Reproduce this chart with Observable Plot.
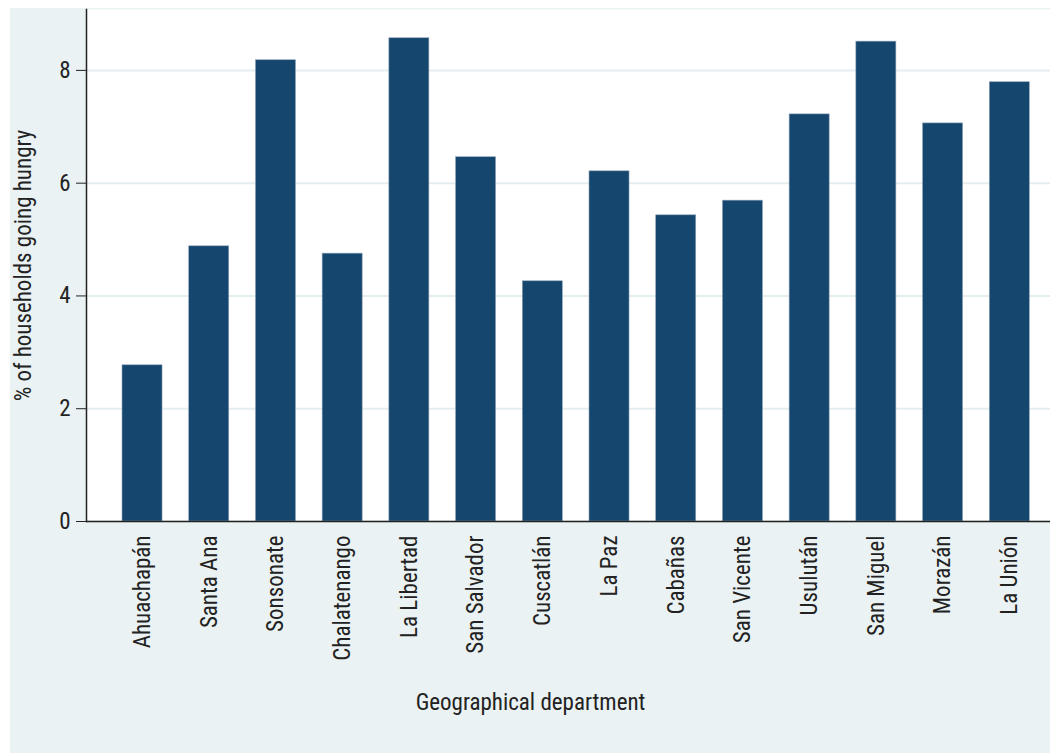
<!DOCTYPE html>
<html>
<head>
<meta charset="utf-8">
<script src="https://cdn.jsdelivr.net/npm/d3@7"></script>
<script src="https://cdn.jsdelivr.net/npm/@observablehq/plot@0.6"></script>
<style>
  html, body { margin: 0; padding: 0; background: #ffffff; }
  #wrap { position: relative; width: 1050px; height: 753px; overflow: hidden; }
  #panel { position: absolute; left: 10px; top: 8px; width: 1040px; height: 745px; background: #eaf2f3; }
  #chart { position: absolute; left: 0; top: 0; }
  svg { font-family: "Liberation Sans Narrow", "Arial Narrow", "Roboto Condensed", sans-serif; }
</style>
</head>
<body>
<div id="wrap"><div id="panel"></div><div id="chart"></div></div>
<script>
const departments = ["Ahuachapán","Santa Ana","Sonsonate","Chalatenango","La Libertad","San Salvador","Cuscatlán","La Paz","Cabañas","San Vicente","Usulután","San Miguel","Morazán","La Unión"];
const hungry = [2.77, 4.88, 8.18, 4.75, 8.57, 6.46, 4.26, 6.21, 5.43, 5.69, 7.22, 8.51, 7.06, 7.79];
const yTicks = [0, 2, 4, 6, 8];
const xTitle = "Geographical department";
const yTitle = "% of households going hungry";

const data = departments.map((d, i) => ({department: d, value: hungry[i]}));

const chart = Plot.plot({
  width: 1050,
  height: 753,
  marginLeft: 86,
  marginTop: 9,
  marginRight: 0,
  marginBottom: 232,
  style: {background: "transparent", fontSize: "23px", color: "#222"},
  x: {domain: departments, paddingInner: 0.4, paddingOuter: 0.425, align: 0.635, round: false},
  y: {domain: [0, 9.08]},
  marks: [
    Plot.frame({fill: "#ffffff", stroke: null}),
    Plot.gridY(yTicks, {stroke: "#e4eef0", strokeOpacity: 1, strokeWidth: 2}),
    Plot.barY(data, {x: "department", y: "value", fill: "#15466d", stroke: "#8fa3b8", strokeWidth: 0.6}),
    Plot.axisY(yTicks, {tickSize: 10, tickPadding: 6, fontSize: 23, tickFormat: d3.format("d"), label: yTitle, labelAnchor: "center", labelArrow: "none", labelOffset: 72, stroke: "#222"}),
    Plot.axisX({tickSize: 0, tickPadding: 14, tickRotate: -90, fontSize: 23, label: null}),
    Plot.text([xTitle], {frameAnchor: "bottom", text: d => d, dx: -38, dy: 188, fontSize: 23, fill: "#222"}),
    Plot.ruleY([0], {stroke: "#222", strokeWidth: 1.5}),
    Plot.frame({anchor: "left", stroke: "#222", strokeWidth: 1.5})
  ]
});
document.getElementById("chart").appendChild(chart);
</script>
</body>
</html>
